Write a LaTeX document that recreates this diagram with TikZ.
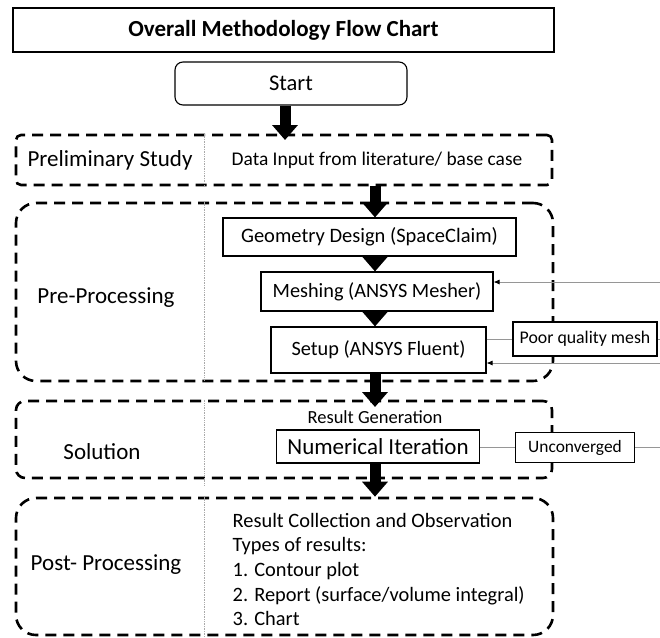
\documentclass[tikz,border=0pt]{standalone}
\usepackage{fontspec}
\setmainfont{Carlito}
\usetikzlibrary{arrows.meta}
\definecolor{linegray}{RGB}{150,150,150}
\definecolor{divgray}{RGB}{170,170,170}
\begin{document}
\begin{tikzpicture}[x=1pt,y=-1pt,
  solidbox/.style={draw=black,fill=white,line width=1.1pt,inner sep=0pt,align=center},
  phasebox/.style={draw=black,line width=2.6pt,dash pattern=on 11pt off 7pt,inner sep=0pt},
  bigarrow/.style={line width=11pt,-{Triangle[length=15pt,width=25pt]}},
  thinarrow/.style={draw=linegray,line width=0.8pt,-{Latex[length=6pt,width=5pt,color=black]}},
  thinline/.style={draw=linegray,line width=0.8pt},
  divider/.style={draw=divgray,line width=0.7pt,densely dotted},
  lbl/.style={inner sep=0pt,font=\fontsize{23}{27}\selectfont}
]
\useasboundingbox (0,0) rectangle (660,637);
\fill[white] (0,0) rectangle (660,637);

% title and start
\node[solidbox,line width=2.6pt,minimum width=541pt,minimum height=44pt,font=\bfseries\fontsize{23}{27}\selectfont] (title) at (283.5,30) {Overall Methodology Flow Chart};
\node[solidbox,rounded corners=8pt,minimum width=232pt,minimum height=43pt,font=\fontsize{22.5}{27}\selectfont] (start) at (291,83.5) {Start};

% phase boxes
\node[phasebox,rounded corners=5pt,minimum width=536pt,minimum height=50pt] (prelim) at (284,160) {};
\node[phasebox,rounded corners=20pt,minimum width=537pt,minimum height=178pt] (preproc) at (284.5,292) {};
\node[phasebox,rounded corners=9pt,minimum width=536pt,minimum height=77pt] (solution) at (284,439.5) {};
\node[phasebox,rounded corners=20pt,minimum width=537pt,minimum height=137pt] (post) at (284.5,566.5) {};

% dividers
\coordinate (dv) at (204,0);
\draw[divider] (prelim.north -| dv) -- (prelim.south -| dv);
\draw[divider] (preproc.north -| dv) -- (preproc.south -| dv);
\draw[divider] (solution.north -| dv) -- ([yshift=-7pt]solution.south -| dv);
\draw[divider] (post.north -| dv) -- (post.south -| dv);

% phase labels
\node[lbl] (lprelim) at (110,160) {Preliminary Study};
\node[lbl] (lpre) at (106,298) {Pre-Processing};
\node[lbl] (lsol) at (102,452) {Solution};
\node[lbl] (lpost) at (106,565) {Post- Processing};

% right column
\node[inner sep=0pt,font=\fontsize{19.4}{23}\selectfont] (data) at (377,160) {Data Input from literature/ base case};
\node[solidbox,minimum width=293pt,minimum height=38pt,font=\fontsize{20.5}{24}\selectfont] (geometry) at (369.5,237) {Geometry Design (SpaceClaim)};
\node[solidbox,minimum width=232pt,minimum height=39pt,font=\fontsize{20.3}{24}\selectfont] (meshing) at (377,291.5) {Meshing (ANSYS Mesher)};
\node[solidbox,minimum width=215pt,minimum height=46pt,font=\fontsize{20.3}{24}\selectfont] (setup) at (378.5,350) {Setup (ANSYS Fluent)};
\node[solidbox,minimum width=144pt,minimum height=34pt,font=\fontsize{17.8}{21}\selectfont] (poor) at (585,339) {Poor quality mesh};
\node[inner sep=0pt,font=\fontsize{18.5}{22}\selectfont] (resgen) at (375,417) {Result Generation};
\node[solidbox,minimum width=203.5pt,minimum height=33pt,font=\fontsize{23}{27}\selectfont] (numerical) at (378,446.5) {Numerical Iteration};
\node[solidbox,minimum width=118.5pt,minimum height=30pt,font=\fontsize{17.4}{21}\selectfont] (unconv) at (575,447.7) {Unconverged};
\node[inner sep=0pt,anchor=west,align=left,font=\fontsize{20.4}{24.6}\selectfont] (results) at (232.5,569.5) {Result Collection and Observation\\Types of results:\\1. Contour plot\\2. Report (surface/volume integral)\\3. Chart};

% big arrows
\coordinate (ax) at (375,0);
\coordinate (a1) at (285,140);
\coordinate (a5) at (375,407);
\draw[bigarrow] (start.south -| a1) -- (a1);
\draw[bigarrow] (prelim.south -| ax) -- (geometry.north -| ax);
\draw[bigarrow] (geometry.south -| ax) -- (meshing.north -| ax);
\draw[bigarrow] (meshing.south -| ax) -- (setup.north -| ax);
\draw[bigarrow] (setup.south -| ax) -- (a5);
\draw[bigarrow] (numerical.south -| ax) -- (post.north -| ax);

% feedback lines
\coordinate (r1) at (660,282);
\coordinate (r2) at (660,363);
\coordinate (re) at (660,0);
\draw[thinline] (setup.east |- poor.west) -- (poor.west);
\draw[thinline] (poor.east) -- (poor.east -| re);
\draw[thinarrow] (r1) -- (meshing.east |- r1);
\draw[thinarrow] (r2) -- (setup.east |- r2);
\draw[thinline] (numerical.east |- unconv.west) -- (unconv.west);
\draw[thinline] (unconv.east) -- (unconv.east -| re);
\end{tikzpicture}
\end{document}
